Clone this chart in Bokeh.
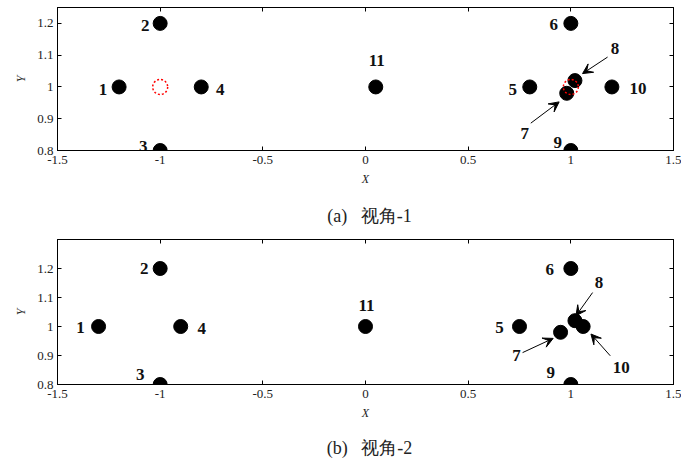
from bokeh.plotting import figure
from bokeh.models import (ColumnDataSource, LinearAxis, FixedTicker, CustomJSTickFormatter,
                          Arrow, VeeHead, Label, Range1d)
from bokeh.layouts import column
from bokeh.embed import file_html
from bokeh.resources import INLINE
from bokeh.core.properties import value

# ---------------- data ----------------
point_ids = ["1", "2", "3", "4", "5", "6", "7", "8", "9", "10", "11"]

# view 1
xa = [-1.2, -1.0, -1.0, -0.8, 0.8, 1.0, 0.98, 1.02, 1.0, 1.2, 0.05]
ya = [1.0, 1.2, 0.8, 1.0, 1.0, 1.2, 0.98, 1.02, 0.8, 1.0, 1.0]
ref_x = [-1.0, 1.0]
ref_y = [1.0, 1.0]

# view 2
xb = [-1.3, -1.0, -1.0, -0.9, 0.75, 1.0, 0.95, 1.02, 1.0, 1.06, 0.0]
yb = [1.0, 1.2, 0.8, 1.0, 1.0, 1.2, 0.98, 1.02, 0.8, 1.0, 1.0]

x_ticks = [-1.5, -1.0, -0.5, 0.0, 0.5, 1.0, 1.5]
x_tick_labels = ["-1.5", "-1", "-0.5", "0", "0.5", "1", "1.5"]
y_ticks = [0.8, 0.9, 1.0, 1.1, 1.2]
y_tick_labels = ["0.8", "0.9", "1", "1.1", "1.2"]

captions = ["(a)\u00a0\u00a0\u00a0视角-1", "(b)\u00a0\u00a0\u00a0视角-2"]

# ---------------- layout / annotation styling ----------------
# label offsets (pixels) from each point
dx_a = [-16, -15, -17, 19, -17, -17, -42, 40, -13, 26, 1]
dy_a = [3, 2, -4, 3, 3, 1, 40, -32, -8, 2, -26]
dx_b = [-18, -16, -20, 21, -20, -21, -44, 24, -20, 38, 1]
dy_b = [1, 0, -10, 2, 1, 1, 23, -38, -12, 41, -21]

# arrows (tail -> head) in data units
arrows_a = dict(x0=[1.179, 0.805], y0=[1.094, 0.886], x1=[1.057, 0.943], y1=[1.042, 0.953])
arrows_b = dict(x0=[1.106, 0.765, 1.192], y0=[1.117, 0.910, 0.899],
                x1=[1.025, 0.914, 1.098], y1=[1.037, 0.959, 0.974])

SERIF = "Liberation Serif"


def fmt(vals, labs):
    return CustomJSTickFormatter(args=dict(vals=vals, labs=labs),
                                 code="const i = vals.indexOf(tick); return i >= 0 ? labs[i] : '';")


def style_axis(ax, show_labels):
    ax.axis_line_color = "black"
    ax.axis_line_width = 1
    ax.major_tick_in = 4
    ax.major_tick_out = 0
    ax.minor_tick_in = 0
    ax.minor_tick_out = 0
    ax.major_tick_line_color = "black"
    ax.major_label_text_font = SERIF
    ax.major_label_text_color = "#222222"
    ax.major_label_text_font_size = "13px"
    if not show_labels:
        ax.formatter = CustomJSTickFormatter(code="return '';")
        ax.major_label_standoff = 0


def make_panel(xs, ys, dxs, dys, arrows, y_end, height, top, bottom, refs=None):
    p = figure(width=681, height=height, x_range=Range1d(-1.5, 1.5), y_range=Range1d(0.8, y_end),
               output_backend="svg", toolbar_location=None,
               min_border_left=57, min_border_right=8, min_border_top=top, min_border_bottom=bottom)
    p.grid.visible = False
    p.outline_line_color = "black"
    p.outline_line_width = 1
    p.background_fill_color = "white"
    p.border_fill_color = "white"

    p.xaxis.ticker = FixedTicker(ticks=x_ticks)
    p.xaxis.formatter = fmt(x_ticks, x_tick_labels)
    p.yaxis.ticker = FixedTicker(ticks=y_ticks)
    p.yaxis.formatter = fmt(y_ticks, y_tick_labels)
    style_axis(p.xaxis[0], True)
    style_axis(p.yaxis[0], True)
    p.xaxis.major_label_standoff = 5
    p.yaxis.major_label_standoff = 4
    p.xaxis.axis_label = "X"
    p.yaxis.axis_label = "Y"
    for ax in (p.xaxis[0], p.yaxis[0]):
        ax.axis_label_text_font = SERIF
        ax.axis_label_text_font_style = "italic"
        ax.axis_label_text_font_size = "12px"
        ax.axis_label_text_color = "#222222"
    p.xaxis.axis_label_standoff = 5
    p.yaxis.axis_label_standoff = 6

    top_ax = LinearAxis(ticker=FixedTicker(ticks=x_ticks))
    style_axis(top_ax, False)
    p.add_layout(top_ax, "above")
    right_ax = LinearAxis(ticker=FixedTicker(ticks=y_ticks))
    style_axis(right_ax, False)
    p.add_layout(right_ax, "right")

    src = ColumnDataSource(dict(x=xs, y=ys, t=point_ids, dx=dxs, dy=dys))
    p.scatter("x", "y", source=src, size=14, color="black")
    if refs is not None:
        p.scatter(refs[0], refs[1], size=15, fill_color=None, line_color="red",
                  line_dash="2 2", line_width=1.5)
    p.text("x", "y", text="t", source=src, x_offset="dx", y_offset="dy",
           text_font=value(SERIF), text_font_style="bold", text_font_size="17px",
           text_align="center", text_baseline="middle", text_color="#111111")

    arr = ColumnDataSource(arrows)
    p.add_layout(Arrow(x_start="x0", y_start="y0", x_end="x1", y_end="y1", source=arr,
                       line_color="black", line_width=1,
                       end=VeeHead(size=10, fill_color="black", line_color="black", line_width=1)))
    return p


def caption_strip(text, height, y_from_bottom):
    c = figure(width=681, height=height, x_range=Range1d(0, 681), y_range=Range1d(0, height),
               output_backend="svg", toolbar_location=None, min_border=0,
               x_axis_type=None, y_axis_type=None)
    c.grid.visible = False
    c.outline_line_color = None
    c.background_fill_color = "white"
    c.border_fill_color = "white"
    c.add_layout(Label(x=345, y=y_from_bottom, text=text, text_align="center",
                       text_baseline="middle", text_font=SERIF, text_font_size="18px",
                       text_color="#222222"))
    return c


pa = make_panel(xa, ya, dx_a, dy_a, arrows_a, 1.25, 192, 7, 42, refs=(ref_x, ref_y))
ca = caption_strip(captions[0], 38, 15)
pb = make_panel(xb, yb, dx_b, dy_b, arrows_b, 1.3, 196, 9, 42)
cb = caption_strip(captions[1], 35, 14)

layout = column(pa, ca, pb, cb, spacing=0)
open("out.html", "w").write(file_html(layout, INLINE))
